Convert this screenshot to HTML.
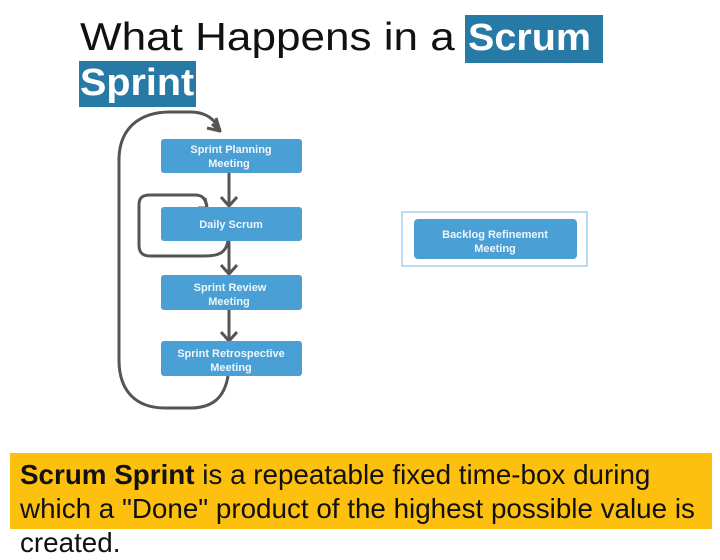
<!DOCTYPE html>
<html><head><meta charset="utf-8"><style>
html,body{margin:0;padding:0;width:720px;height:540px;overflow:hidden;background:#fff;font-family:"Liberation Sans",Arial,sans-serif;}
.t{position:absolute;font-size:39px;color:#111;white-space:nowrap;transform-origin:0 0;transform:scaleX(1.13);}
.hl{position:absolute;background:#2779a6;color:#fff;font-weight:bold;font-size:38px;}
.hl span{transform-origin:0 0;transform:scaleX(1.04);white-space:nowrap;}
.y{position:absolute;left:10px;top:453px;width:702px;height:76px;background:#fdc00f;}
.yt{position:absolute;left:20px;top:458px;font-size:27.8px;line-height:34px;color:#111;white-space:nowrap;}
</style></head><body>
<div class="t" style="left:80px;top:16px;">What Happens in a</div>
<div class="hl" style="left:465px;top:15px;width:138px;height:48px;"><span style="position:absolute;left:3px;top:2px;">Scrum</span></div>
<div class="hl" style="left:79px;top:61px;width:117px;height:46px;"><span style="position:absolute;left:1px;top:1px;">Sprint</span></div>
<svg style="position:absolute;left:0;top:0" width="720" height="540">
<g fill="none" stroke="#555" stroke-width="3" stroke-linejoin="round">
<path d="M228 376 C224 400 210 408 190 408 L165 408 C135 408 119 390 119 360 L119 160 C119 128 140 112 170 112 L190 112 C205 112 214 118 220 130"/>
<path d="M212 124 L220 131 L216 118"/>
<path d="M207 128 L220 131"/>
<path d="M228 241 C226 252 220 256 205 256 L150 256 C142 256 139 252 139 245 L139 205 C139 198 142 195 150 195 L195 195 C202 195 205 198 207 206"/>
<path d="M198 208 L207 208 L205 198"/>
<path d="M229 173 L229 205 M221 197 L229 206 L237 197"/>
<path d="M229 241 L229 273 M221 265 L229 274 L237 265"/>
<path d="M229 310 L229 340 M221 332 L229 341 L237 332"/>
</g>
<g fill="#4a9fd5">
<rect x="161" y="139" width="141" height="34" rx="3"/>
<rect x="161" y="207" width="141" height="34" rx="3"/>
<rect x="161" y="275" width="141" height="35" rx="3"/>
<rect x="161" y="341" width="141" height="35" rx="3"/>
<rect x="414" y="219" width="163" height="40" rx="4"/>
</g>
<rect x="402" y="212" width="185" height="54" fill="none" stroke="#a9cdea" stroke-width="1.5"/>
<g fill="#eef6fc" font-size="11" font-weight="bold" text-anchor="middle" font-family="Liberation Sans Narrow,Liberation Sans,sans-serif">
<text x="231" y="153">Sprint Planning</text><text x="229" y="167">Meeting</text>
<text x="231" y="228">Daily Scrum</text>
<text x="230" y="291">Sprint Review</text><text x="229" y="305">Meeting</text>
<text x="231" y="357">Sprint Retrospective</text><text x="231" y="371">Meeting</text>
<text x="495" y="238">Backlog Refinement</text><text x="495" y="252">Meeting</text>
</g>
</svg>
<div class="y"></div>
<div class="yt"><b>Scrum Sprint</b> is a repeatable fixed time-box during<br>which a "Done" product of the highest possible value is<br>created.</div>
</body></html>
